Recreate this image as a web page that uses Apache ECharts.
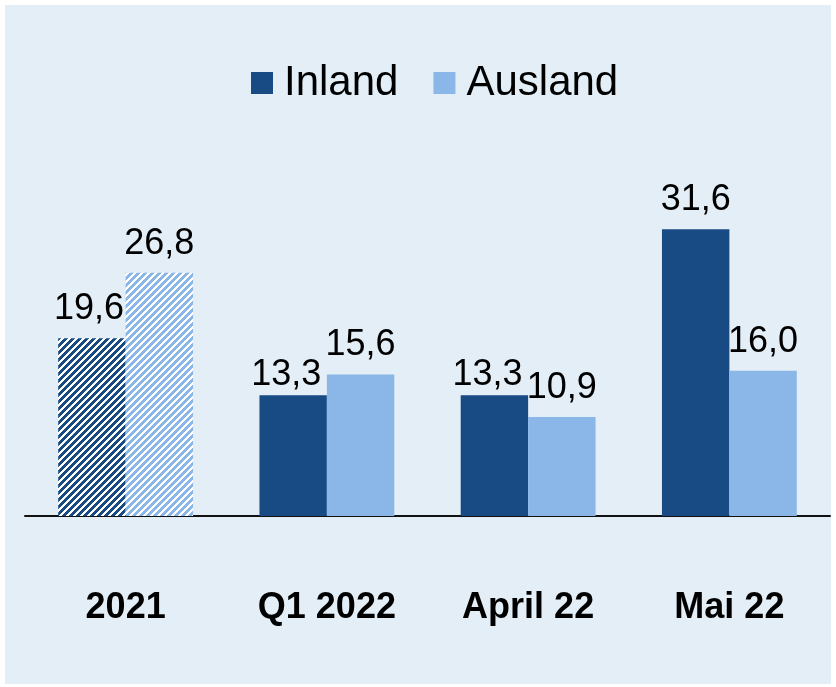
<!DOCTYPE html>
<html>
<head>
<meta charset="utf-8">
<script src="https://cdn.jsdelivr.net/npm/echarts@6/dist/echarts.min.js"></script>
<style>
  html, body { margin: 0; padding: 0; background: #fff; }
  #content { width: 836px; height: 687px; }
</style>
</head>
<body>
<div id="content"></div>
<script>
const categories = ['2021', 'Q1 2022', 'April 22', 'Mai 22'];
const inland = [19.6, 13.3, 13.3, 31.6];
const ausland = [26.8, 15.6, 10.9, 16.0];

const DARK = '#184a84';
const LIGHT = '#8ab6e8';

// diagonal stripes for the 2021 bars
function stripes(color) {
  const c = document.createElement('canvas');
  c.width = 7;
  c.height = 7;
  const ctx = c.getContext('2d');
  for (let x = 0; x < 7; x++) {
    for (let y = 0; y < 7; y++) {
      ctx.fillStyle = (x + y) % 7 < 3 ? '#ffffff' : color;
      ctx.fillRect(x, y, 1, 1);
    }
  }
  return { image: c, repeat: 'repeat' };
}

// first bar hatched; inland labels nudged where they would touch the neighbour
function toData(values, color, nudge) {
  return values.map((v, i) => {
    const item = { value: v };
    if (i === 0) item.itemStyle = { color: stripes(color) };
    if (nudge && v < ausland[i] + 4 && i > 0 && i < 3) item.label = { offset: [-7, 9] };
    if (nudge && i === 0) item.label = { offset: [-3, 0] };
    return item;
  });
}

const label = {
  show: true,
  position: 'top',
  distance: 11,
  fontSize: 36,
  fontFamily: 'Liberation Sans, Arial',
  color: '#000',
  formatter: p => p.value.toFixed(1).replace('.', ',')
};

const chart = echarts.init(document.getElementById('content'));
chart.setOption({
  animation: false,
  backgroundColor: '#ffffff',
  graphic: [{
    type: 'rect',
    z: -10,
    shape: { x: 5, y: 5, width: 826, height: 679 },
    style: { fill: '#e3eef6' }
  }],
  legend: {
    top: 57,
    left: 246,
    itemWidth: 22,
    itemHeight: 22,
    itemGap: 35,
    icon: 'rect',
    textStyle: {
      fontSize: 42,
      fontFamily: 'Liberation Sans, Arial',
      color: '#000',
      padding: [0, 0, 0, 6]
    },
    data: ['Inland', 'Ausland']
  },
  grid: { left: 25, right: 6, top: 153, bottom: 171 },
  xAxis: {
    type: 'category',
    data: categories,
    axisLine: { lineStyle: { color: '#111', width: 2 } },
    axisTick: { show: false },
    axisLabel: {
      margin: 74,
      fontSize: 36,
      fontWeight: 'bold',
      fontFamily: 'Liberation Sans, Arial',
      color: '#000'
    }
  },
  yAxis: {
    type: 'value',
    min: 0,
    max: 40,
    show: false,
    splitLine: { show: false }
  },
  series: [{
    name: 'Inland',
    type: 'bar',
    barGap: 0,
    barCategoryGap: '33%',
    itemStyle: { color: DARK },
    label: label,
    data: toData(inland, DARK, true)
  }, {
    name: 'Ausland',
    type: 'bar',
    barGap: 0,
    barCategoryGap: '33%',
    itemStyle: { color: LIGHT },
    label: label,
    data: toData(ausland, LIGHT, false)
  }]
});
</script>
</body>
</html>
